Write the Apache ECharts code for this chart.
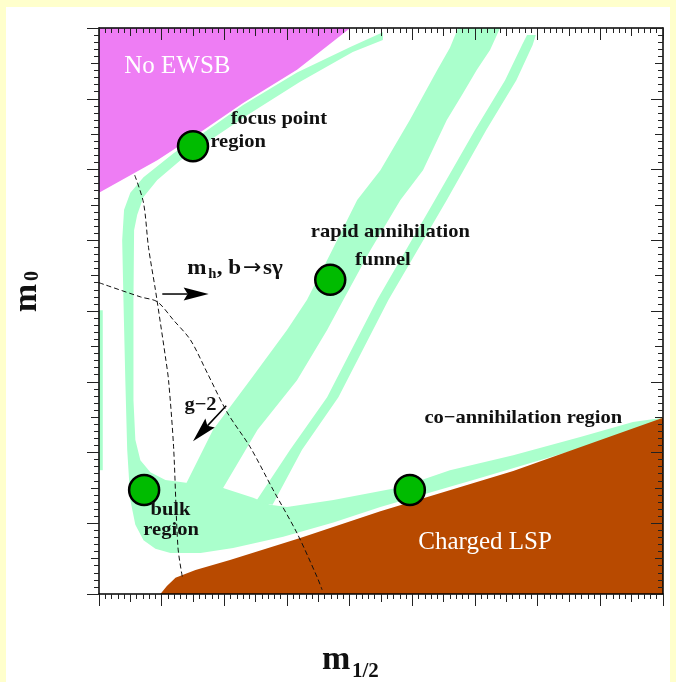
<!DOCTYPE html>
<html>
<head>
<meta charset="utf-8">
<script src="https://cdn.jsdelivr.net/npm/echarts@6/dist/echarts.min.js"></script>
<style>
  html, body { margin: 0; padding: 0; background: #FFFFCC; }
  #panel { position: absolute; left: 6px; top: 7px; width: 664px; height: 675px; background: #ffffff; }
  #main { position: absolute; left: 0; top: 0; width: 676px; height: 682px; }
</style>
</head>
<body>
<div id="panel"></div>
<div id="main"></div>
<script>
// Schematic mSUGRA plane: m0 versus m1/2 (arbitrary units, no tick labels).
const xRange = [0, 900];
const yRange = [0, 800];

// Excluded regions
const noEwsb = [[0,800],[401,800],[316,741],[230,694],[167,656],[93,613],[0,567]];
const chargedLsp = [[98,0],[108,11],[122,23],[154,34],[209,48],[321,79],[449,117],[661,174],[900,249],[900,0]];

// Relic-density allowed strips
const focusBulkCoann = [
  [453,794],[401,773],[316,737],[230,691],[167,652],[119,623],[71,589],[50,567],[40,543],[37,500],
  [39,416],[42,302],[45,204],[50,133],[58,98],[71,76],[90,64],[114,58],[162,58],[214,65],[294,81],
  [374,101],[449,123],[608,164],[768,206],[875,240],[900,249],[852,243],[768,222],[661,196],
  [560,175],[481,151],[374,133],[300,123],[273,126],[246,136],[198,150],[142,157],[106,161],
  [82,172],[66,189],[58,218],[55,274],[55,416],[56,514],[61,536],[71,561],[93,585],[130,613],
  [173,639],[237,677],[321,724],[405,766],[453,783]
];
const funnelWide = [
  [134,147],[182,232],[241,302],[300,373],[332,416],[372,486],[412,557],[449,599],[496,670],
  [540,741],[560,772],[573,800],[640,800],[624,769],[603,741],[579,705],[555,670],[517,599],
  [481,557],[433,486],[390,416],[364,373],[316,302],[253,232],[198,150],[206,140],[150,140]
];
const funnelThin = [
  [249,129],[305,204],[364,278],[444,416],[536,557],[600,656],[648,726],[675,776],[683,790],
  [697,790],[692,776],[666,726],[618,656],[555,557],[462,416],[382,278],[324,204],[277,126]
];
const edgeStrip = [[0,401],[6,401],[6,175],[0,175]];

// Constraint contours
const bsgCurve = [[57,592],[71,553],[79,490],[90,430],[98,383],[106,335],[111,302],[119,208],[126,66],[133,24]];
const g2Curve = [[0,440],[66,420],[93,413],[119,387],[146,359],[173,312],[205,256],[241,208],[278,147],[316,86],[348,24],[356,6]];

// Arrows: [fromX, fromY, toX, toY]
const arrows = [[101,424,175,424],[203,266,150,216]];

// Benchmark points
const benchmarks = [[150,633],[369,444],[72,147],[496,147]];

// Annotations: [text, x, y]
const regionNames = [['No EWSB',125,746],['Charged LSP',616,73]];
const stripNames = [
  ['focus point',287,671],['region',222,639],['rapid annihilation',465,512],['funnel',453,472],
  ['g\u22122',162,267],['bulk',114,119],['region',115,90],['co\u2212annihilation region',677,249]
];
const constraintName = [[141,461]];

const SERIF = '"Liberation Serif", "Times New Roman", serif';
const MINT = '#AAFFCC';

function area(points, color, z) {
  return {
    type: 'custom', coordinateSystem: 'cartesian2d', silent: true, z: z,
    data: points,
    renderItem: function (params, api) {
      if (params.dataIndex !== 0) return null;
      return {
        type: 'polygon',
        shape: { points: points.map(function (p) { return api.coord(p); }) },
        style: { fill: color }
      };
    }
  };
}

function notes(list, fontStr, color, sx) {
  return {
    type: 'custom', coordinateSystem: 'cartesian2d', silent: true, z: 8,
    data: list.map(function (n) { return [n[1], n[2]]; }),
    renderItem: function (params, api) {
      const p = api.coord([api.value(0), api.value(1)]);
      return {
        type: 'text', x: p[0], y: p[1], scaleX: sx,
        style: {
          text: list[params.dataIndex][0], font: fontStr, fill: color,
          align: 'center', verticalAlign: 'middle', textAlign: 'center', textVerticalAlign: 'middle'
        }
      };
    }
  };
}

function piece(txt, dx, dy, fontStr) {
  return {
    type: 'text', x: dx, y: dy,
    style: { text: txt, font: fontStr, fill: '#111', align: 'left', verticalAlign: 'middle', textAlign: 'left', textVerticalAlign: 'middle' }
  };
}

const tickStyle = { color: '#222', width: 1 };
function mainAxis(pos, max, inside) {
  return {
    type: 'value', position: pos, min: 0, max: max, interval: 100, z: 10,
    axisLabel: { show: false }, splitLine: { show: false },
    axisLine: { show: true, onZero: false, lineStyle: { color: '#000', width: 1.5 } },
    axisTick: { show: true, inside: inside, length: 12, lineStyle: tickStyle },
    minorTick: { show: true, splitNumber: 10, length: 5, lineStyle: tickStyle }
  };
}
function midAxis(pos, max, inside) {
  return {
    type: 'value', position: pos, min: 0, max: max, interval: 50, z: 10,
    axisLabel: { show: false }, splitLine: { show: false },
    axisLine: { show: false, onZero: false },
    axisTick: { show: true, inside: inside, length: 8, lineStyle: tickStyle }
  };
}

const chart = echarts.init(document.getElementById('main'), null, { renderer: 'canvas' });

chart.setOption({
  backgroundColor: 'transparent',
  animation: false,
  grid: { left: 99, top: 28, width: 564, height: 566 },
  xAxis: [
    mainAxis('bottom', xRange[1], false), mainAxis('top', xRange[1], true),
    midAxis('bottom', xRange[1], false), midAxis('top', xRange[1], true)
  ],
  yAxis: [
    mainAxis('left', yRange[1], false), mainAxis('right', yRange[1], true),
    midAxis('left', yRange[1], false), midAxis('right', yRange[1], true)
  ],
  graphic: [
    { type: 'text', x: 322, y: 660, style: { text: 'm', font: 'bold 34px ' + SERIF, fill: '#111', align: 'left', verticalAlign: 'middle', textAlign: 'left', textVerticalAlign: 'middle' } },
    { type: 'text', x: 352, y: 672, style: { text: '1/2', font: 'bold 21px ' + SERIF, fill: '#111', align: 'left', verticalAlign: 'middle', textAlign: 'left', textVerticalAlign: 'middle' } },
    { type: 'text', x: 27, y: 298, rotation: Math.PI / 2, style: { text: 'm', font: 'bold 34px ' + SERIF, fill: '#111', align: 'center', verticalAlign: 'middle', textAlign: 'center', textVerticalAlign: 'middle' } },
    { type: 'text', x: 33, y: 276, rotation: Math.PI / 2, style: { text: '0', font: 'bold 20px ' + SERIF, fill: '#111', align: 'center', verticalAlign: 'middle', textAlign: 'center', textVerticalAlign: 'middle' } }
  ],
  series: [
    area(edgeStrip, MINT, 2),
    area(focusBulkCoann, MINT, 2),
    area(funnelWide, MINT, 2),
    area(funnelThin, MINT, 2),
    area(noEwsb, '#EE7DF4', 3),
    area(chargedLsp, '#B84A00', 3),
    {
      type: 'line', data: bsgCurve, smooth: 0.3, showSymbol: false, silent: true, z: 4,
      lineStyle: { color: '#111', width: 1, type: [5, 3] }
    },
    {
      type: 'line', data: g2Curve, smooth: 0.3, showSymbol: false, silent: true, z: 4,
      lineStyle: { color: '#111', width: 1, type: [5, 3] }
    },
    {
      type: 'custom', coordinateSystem: 'cartesian2d', silent: true, z: 5,
      data: arrows, encode: { x: [0, 2], y: [1, 3] },
      renderItem: function (params, api) {
        const a = api.coord([api.value(0), api.value(1)]);
        const b = api.coord([api.value(2), api.value(3)]);
        const dx = b[0] - a[0], dy = b[1] - a[1];
        const L = Math.sqrt(dx * dx + dy * dy);
        const ux = dx / L, uy = dy / L;
        const head = 25, hw = 6.5, notch = 4;
        const bx = b[0] - ux * head, by = b[1] - uy * head;
        return {
          type: 'group',
          children: [
            { type: 'line', shape: { x1: a[0], y1: a[1], x2: bx + ux * notch, y2: by + uy * notch }, style: { stroke: '#000', lineWidth: 1.5 } },
            { type: 'polygon', shape: { points: [b, [bx - uy * hw, by + ux * hw], [bx + ux * notch, by + uy * notch], [bx + uy * hw, by - ux * hw]] }, style: { fill: '#000' } }
          ]
        };
      }
    },
    {
      type: 'scatter', data: benchmarks, symbol: 'circle', symbolSize: 30, silent: true, z: 6,
      itemStyle: { color: '#00BB00', borderColor: '#000', borderWidth: 2.5, opacity: 1 }
    },
    notes(regionNames, '25px ' + SERIF, '#ffffff', 1),
    notes(stripNames, 'bold 19px ' + SERIF, '#111', 1.08),
    {
      type: 'custom', coordinateSystem: 'cartesian2d', silent: true, z: 8,
      data: constraintName,
      renderItem: function (params, api) {
        const p = api.coord([api.value(0), api.value(1)]);
        const f = 'bold 22px ' + SERIF;
        return {
          type: 'group', x: p[0], y: p[1], scaleX: 1.05,
          children: [
            piece('m', 0, 0, f),
            piece('h', 20, 7, 'bold 14px ' + SERIF),
            piece(', b', 28, 0, f),
            piece('\u2192', 53, 1, '21px "DejaVu Sans"'),
            piece('s\u03B3', 72, 0, f)
          ]
        };
      }
    }
  ]
});
</script>
</body>
</html>
